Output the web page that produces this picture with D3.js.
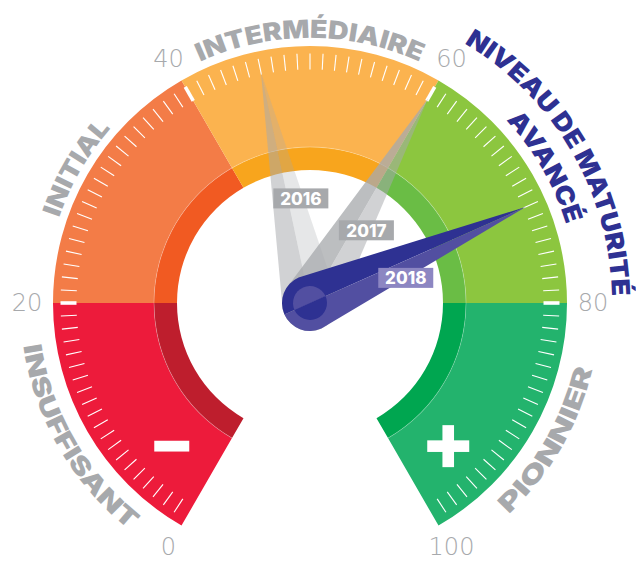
<!DOCTYPE html>
<html><head><meta charset="utf-8">
<script src="https://cdn.jsdelivr.net/npm/d3@7"></script>
<style>body{margin:0;background:#fff}svg{display:block}</style>
</head><body><svg id="c" width="636" height="562"></svg>
<script>
// ---------- data ----------
const segStarts = [0, 20, 40, 60, 80];
const segEnds = [20, 40, 60, 80, 100];
const segLabels = [["INSUFFISANT"], ["INITIAL"], ["INTERMÉDIAIRE"], ["NIVEAU DE MATURITÉ", "AVANCÉ"], ["PIONNIER"]];
const tickLabels = [0, 20, 40, 60, 80, 100];
const years = ["2016", "2017", "2018"];
const scores = [46, 60, 72];

// ---------- styles / layout ----------
const mainColors = ["#ED1B3B", "#F37C47", "#FBB34F", "#8CC63F", "#23B36D"];
const darkColors = ["#BE1E2D", "#F15A22", "#F8A51D", "#6ABD45", "#00A650"];
const labelColors = ["#A7A9AC", "#A7A9AC", "#A7A9AC", "#2E3192", "#A7A9AC"];
const labelSpanDeg = [[43], [22.5], [49], [58, 26], [33.5]];   // angular width of each label line
const labelRadius = [[290], [265], [265], [302, 268], [290]];  // baseline radius of each label line
const labelShiftDeg = [[0], [0], [0], [-0.3, 0], [0]];
const needleDark = ["#A7A9AC", "#A7A9AC", "#2E3192"];
const needleLight = ["#A7A9AC", "#A7A9AC", "#524FA1"];
const needleDarkOp = [0.52, 0.76, 1];
const needleLightOp = [0.28, 0.52, 1];
const boxColors = ["#A7A9AC", "#A7A9AC", "#8C86C2"];
const boxPolar = [[105, -5], [92, 37.8], [99, 75.3]]; // radius, degrees
const cx = 310, cy = 303;
const R_OUT = 257, R_MID = 156, R_IN = 133;

const svg = d3.select("#c");
const angle = d3.scaleLinear().domain([0, 100]).range([-150, 150]);
const rad = d => d * Math.PI / 180;
const pt = (r, a) => [cx + r * Math.sin(rad(a)), cy - r * Math.cos(rad(a))];
const g = svg.append("g").attr("transform", `translate(${cx},${cy})`);

// ---------- bands ----------
const arcMain = d3.arc().innerRadius(R_MID).outerRadius(R_OUT);
const arcDark = d3.arc().innerRadius(R_IN).outerRadius(R_MID);
const segs = segStarts.map((s, i) => ({s, e: segEnds[i], i}));
g.selectAll("path.main").data(segs).join("path").attr("class", "main")
  .attr("d", d => arcMain({startAngle: rad(angle(d.s)), endAngle: rad(angle(d.e))}))
  .attr("fill", d => mainColors[d.i]);
g.selectAll("path.dark").data(segs).join("path").attr("class", "dark")
  .attr("d", d => arcDark({startAngle: rad(angle(d.s)), endAngle: rad(angle(d.e))}))
  .attr("fill", d => darkColors[d.i]);
g.append("path")
  .attr("d", d3.arc().innerRadius(R_MID - 0.4).outerRadius(R_MID + 0.4)({startAngle: rad(angle(0)), endAngle: rad(angle(100))}))
  .attr("fill", "#fff").attr("opacity", 0.3);

// ---------- ticks ----------
const ticks = d3.range(1, 100);
svg.append("g").selectAll("line").data(ticks).join("line")
  .attr("x1", d => pt(233.5, angle(d))[0]).attr("y1", d => pt(233.5, angle(d))[1])
  .attr("x2", d => pt(249.5, angle(d))[0]).attr("y2", d => pt(249.5, angle(d))[1])
  .attr("stroke", "#fff")
  .attr("stroke-width", d => (d % 20 === 0 ? 3.6 : 1.1));

// ---------- value labels ----------
svg.append("g").selectAll("text").data(tickLabels).join("text")
  .attr("x", d => pt(283, angle(d))[0]).attr("y", d => pt(282, angle(d))[1])
  .attr("text-anchor", "middle").attr("dominant-baseline", "central")
  .attr("font-family", "'DejaVu Sans', Lato, sans-serif").attr("font-weight", 200)
  .attr("font-size", 24).attr("fill", "#A7A9AC")
  .text(d => d);

// ---------- segment labels (curved) ----------
const defs = svg.append("defs");
function arcPath(r, a0, a1, cw) {
  const p0 = pt(r, a0), p1 = pt(r, a1);
  return `M${p0[0]},${p0[1]} A${r},${r} 0 0 ${cw ? 1 : 0} ${p1[0]},${p1[1]}`;
}
segs.forEach(d => {
  const cw = Math.abs(angle((d.s + d.e) / 2)) < 90;
  segLabels[d.i].forEach((txt, j) => {
    const ac = angle((d.s + d.e) / 2) + labelShiftDeg[d.i][j];
    const r = labelRadius[d.i][j];
    const id = `lp${d.i}_${j}`;
    defs.append("path").attr("id", id)
      .attr("d", cw ? arcPath(r, ac - 85, ac + 85, true) : arcPath(r, ac + 85, ac - 85, false));
    svg.append("text")
      .attr("font-family", "Inter, 'Open Sans', sans-serif").attr("font-weight", 900)
      .attr("font-size", 25).attr("fill", labelColors[d.i])
      .append("textPath").attr("href", "#" + id)
      .attr("startOffset", "50%").attr("text-anchor", "middle")
      .attr("textLength", rad(labelSpanDeg[d.i][j]) * r)
      .attr("lengthAdjust", "spacingAndGlyphs")
      .text(txt);
  });
});

// ---------- minus / plus ----------
const mp = pt(199, -136), pp = pt(199, 136);
svg.append("rect").attr("x", mp[0] - 17.5).attr("y", mp[1] - 5.4).attr("width", 35).attr("height", 10.8).attr("fill", "#fff");
svg.append("rect").attr("x", pp[0] - 21).attr("y", pp[1] - 5.8).attr("width", 42).attr("height", 11.6).attr("fill", "#fff");
svg.append("rect").attr("x", pp[0] - 5.8).attr("y", pp[1] - 21).attr("width", 11.6).attr("height", 42).attr("fill", "#fff");

// ---------- needles ----------
const W = 28, TIP = 236;
const ng = svg.append("g");
scores.forEach((v, i) => {
  const a = angle(v);
  const tip = pt(TIP, a);
  const left = pt(W, a - 90), right = pt(W, a + 90), back = pt(W, a + 180);
  const leftPath = `M${cx},${cy} L${tip[0]},${tip[1]} L${left[0]},${left[1]} A${W},${W} 0 0 0 ${back[0]},${back[1]} Z`;
  const rightPath = `M${cx},${cy} L${tip[0]},${tip[1]} L${right[0]},${right[1]} A${W},${W} 0 0 1 ${back[0]},${back[1]} Z`;
  ng.append("path").attr("d", leftPath).attr("fill", needleDark[i]).attr("fill-opacity", needleDarkOp[i]);
  ng.append("path").attr("d", rightPath).attr("fill", needleLight[i]).attr("fill-opacity", needleLightOp[i]);
  if (i === scores.length - 1) {
    const r2 = 17;
    const f = pt(r2, a), b = pt(r2, a + 180);
    ng.append("path").attr("d", `M${f[0]},${f[1]} A${r2},${r2} 0 0 0 ${b[0]},${b[1]} Z`).attr("fill", needleLight[i]);
    ng.append("path").attr("d", `M${f[0]},${f[1]} A${r2},${r2} 0 0 1 ${b[0]},${b[1]} Z`).attr("fill", needleDark[i]);
  }
});

// ---------- year boxes ----------
const yg = svg.append("g");
years.forEach((y, i) => {
  const p = pt(boxPolar[i][0], boxPolar[i][1]);
  yg.append("rect").attr("x", p[0] - 27.5).attr("y", p[1] - 10).attr("width", 55).attr("height", 20).attr("fill", boxColors[i]);
  yg.append("text").attr("x", p[0]).attr("y", p[1] + 0.5)
    .attr("text-anchor", "middle").attr("dominant-baseline", "central")
    .attr("font-family", "Inter, 'Open Sans', sans-serif").attr("font-weight", 800)
    .attr("font-size", 17).attr("fill", "#fff").text(y);
});
</script>
</body></html>
